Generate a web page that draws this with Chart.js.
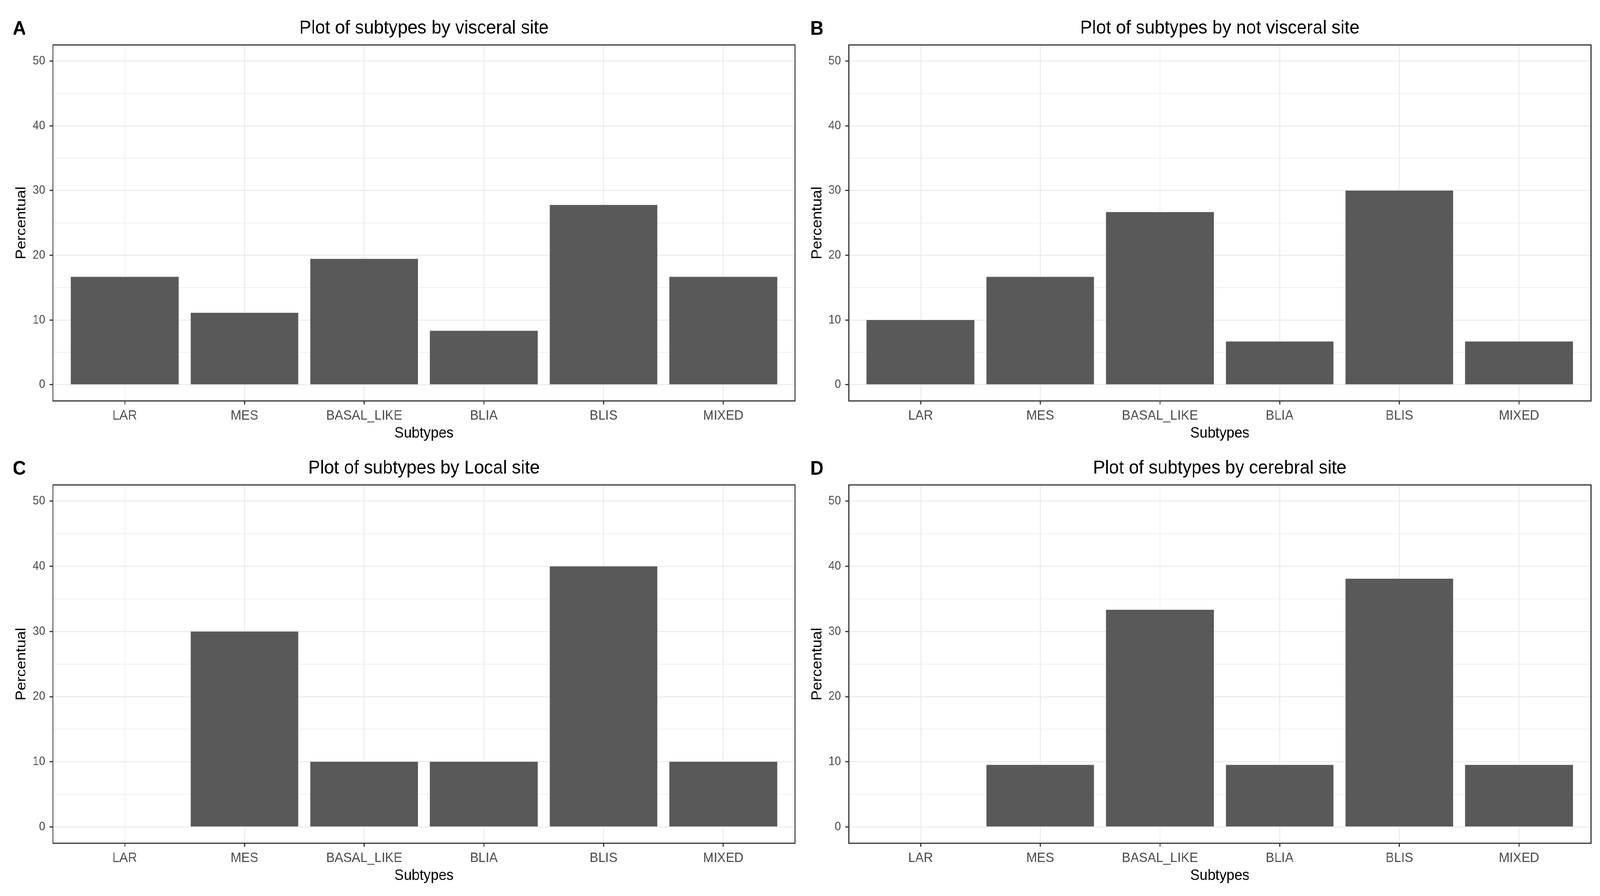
<!DOCTYPE html>
<html>
<head>
<meta charset="utf-8">
<title>Plot of subtypes by site</title>
<script src="https://cdn.jsdelivr.net/npm/chart.js@4.4.1/dist/chart.umd.min.js"></script>
<style>
    html, body { margin: 0; padding: 0; background: #ffffff; overflow: hidden; }
    #figure { position: relative; width: 4385px; height: 2293px; background: #ffffff; overflow: hidden; transform-origin: 0 0; }
    #figure canvas { position: absolute; }
</style>
</head>
<body>
<div id="figure"></div>
<script>
// data (percent of samples per subtype)
const subtypes = ['LAR', 'MES', 'BASAL_LIKE', 'BLIA', 'BLIS', 'MIXED'];
const visceral = [16.67, 11.11, 19.44, 8.33, 27.78, 16.67];
const notVisceral = [10, 16.67, 26.67, 6.67, 30, 6.67];
const localSite = [0, 30, 10, 10, 40, 10];
const cerebral = [0, 9.52, 33.33, 9.52, 38.1, 9.52];
const yMajorTicks = [0, 10, 20, 30, 40, 50];
const yMinorTicks = [5, 15, 25, 35, 45];
const panelLetters = ['A', 'B', 'C', 'D'];
const panelTitles = [
    'Plot of subtypes by visceral site',
    'Plot of subtypes by not visceral site',
    'Plot of subtypes by Local site',
    'Plot of subtypes by cerebral site'
];
const panelValues = [visceral, notVisceral, localSite, cerebral];

const FONT = '"Liberation Sans", Arial, Helvetica, sans-serif';
Chart.defaults.font.family = FONT;

// the figure is laid out in 4385x2293 units and stretched over the window
const FIG_W = 4385, FIG_H = 2293;
const figure = document.getElementById('figure');
const fitX = (window.innerWidth / FIG_W) || 1;
const fitY = (window.innerHeight / FIG_H) || 1;
figure.style.transform = 'scale(' + fitX + ',' + fitY + ')';
const pixelRatio = (window.devicePixelRatio || 1) * Math.max(fitX, fitY);

// where each panel sits on the page
const panelBoxes = [
    { left: 0, top: 0, height: 1146, letterX: 35 },
    { left: 2181, top: 0, height: 1146, letterX: 40 },
    { left: 0, top: 1126, height: 1152, letterX: 35 },
    { left: 2181, top: 1126, height: 1152, letterX: 40 }
];
const CANVAS_W = 2192;

// panel border, letter and centred title (ggplot style)
const panelDecor = {
    id: 'panelDecor',
    afterDraw(chart, args, opts) {
        const { ctx, chartArea } = chart;
        ctx.save();
        ctx.strokeStyle = '#333333';
        ctx.lineWidth = 3;
        ctx.strokeRect(chartArea.left, chartArea.top,
            chartArea.right - chartArea.left, chartArea.bottom - chartArea.top);

        ctx.fillStyle = '#000000';
        ctx.textBaseline = 'alphabetic';
        ctx.textAlign = 'left';
        ctx.font = 'bold 50px ' + FONT;
        ctx.fillText(opts.letter, opts.letterX, 89);

        ctx.textAlign = 'center';
        ctx.font = '49px ' + FONT;
        ctx.fillText(opts.title, (chartArea.left + chartArea.right) / 2, 86);
        ctx.restore();
    }
};

function isMajor(v) {
    return yMajorTicks.includes(v);
}

function makePanel(i) {
    const box = panelBoxes[i];
    const canvas = document.createElement('canvas');
    canvas.style.left = box.left + 'px';
    canvas.style.top = box.top + 'px';
    canvas.style.width = CANVAS_W + 'px';
    canvas.style.height = box.height + 'px';
    canvas.width = CANVAS_W;
    canvas.height = box.height;
    figure.appendChild(canvas);

    return new Chart(canvas.getContext('2d'), {
        type: 'bar',
        data: {
            datasets: [{
                data: panelValues[i].map((v, k) => ({ x: k, y: v })),
                backgroundColor: '#595959',
                borderWidth: 0,
                barPercentage: 0.9,
                categoryPercentage: 1.0
            }]
        },
        plugins: [panelDecor],
        options: {
            responsive: false,
            animation: false,
            devicePixelRatio: pixelRatio,
            layout: { padding: { top: 115, right: 13, bottom: 0, left: 0 } },
            scales: {
                x: {
                    type: 'linear',
                    min: -0.6,
                    max: 5.6,
                    offset: false,
                    afterBuildTicks: (scale) => {
                        scale.ticks = subtypes.map((_, k) => ({ value: k }));
                    },
                    afterFit: (scale) => { scale.height = 120; },
                    ticks: {
                        autoSkip: false,
                        maxRotation: 0,
                        minRotation: 0,
                        padding: 8,
                        color: '#4D4D4D',
                        font: { size: 35 },
                        callback: (v) => subtypes[v]
                    },
                    grid: {
                        offset: false,
                        color: '#EBEBEB',
                        lineWidth: 2.4,
                        tickLength: 9,
                        tickColor: '#333333',
                        tickWidth: 3
                    },
                    border: { display: false },
                    title: {
                        display: true,
                        text: 'Subtypes',
                        color: '#000000',
                        font: { size: 39 },
                        padding: { top: 0, bottom: 13 }
                    }
                },
                y: {
                    type: 'linear',
                    min: -2.5,
                    max: 52.5,
                    afterBuildTicks: (scale) => {
                        scale.ticks = yMajorTicks.concat(yMinorTicks)
                            .sort((a, b) => a - b)
                            .map(v => ({ value: v }));
                    },
                    afterFit: (scale) => { scale.width = 145; },
                    ticks: {
                        autoSkip: false,
                        padding: 12,
                        color: '#4D4D4D',
                        font: { size: 31 },
                        callback: (v) => isMajor(v) ? String(v) : ''
                    },
                    grid: {
                        color: '#EBEBEB',
                        lineWidth: (c) => isMajor(c.tick.value) ? 2.4 : 1.5,
                        tickLength: 9,
                        tickColor: (c) => isMajor(c.tick.value) ? '#333333' : 'rgba(0,0,0,0)',
                        tickWidth: 3
                    },
                    border: { display: false },
                    title: {
                        display: true,
                        text: 'Percentual',
                        color: '#000000',
                        font: { size: 39 },
                        padding: { top: 36, bottom: 0 }
                    }
                }
            },
            plugins: {
                legend: { display: false },
                tooltip: { enabled: false },
                panelDecor: {
                    letter: panelLetters[i],
                    letterX: box.letterX,
                    title: panelTitles[i]
                }
            }
        }
    });
}

panelLetters.forEach((_, i) => makePanel(i));
</script>
</body>
</html>
